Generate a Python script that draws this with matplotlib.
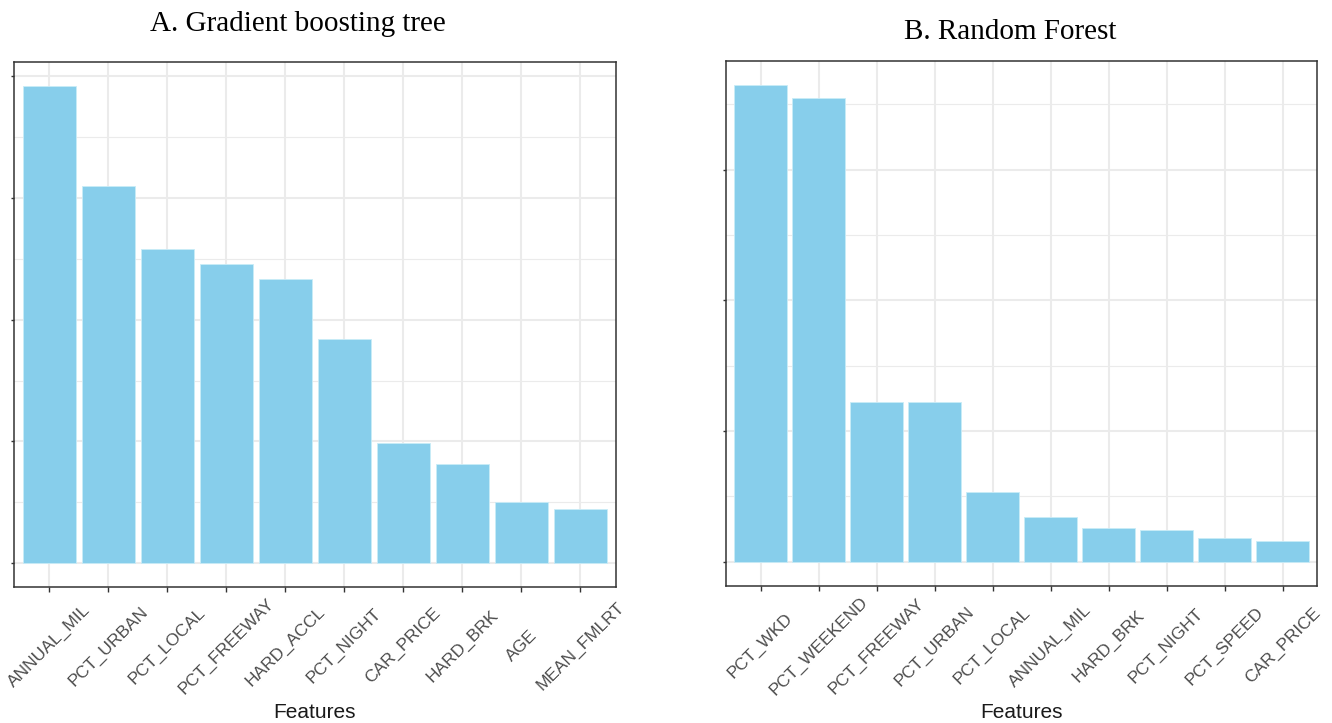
import numpy as np
import matplotlib
matplotlib.use("Agg")
import matplotlib.pyplot as plt

# relative influence from the gradient boosting model
gbt_features = ["ANNUAL_MIL", "PCT_URBAN", "PCT_LOCAL", "PCT_FREEWAY", "HARD_ACCL",
                "PCT_NIGHT", "CAR_PRICE", "HARD_BRK", "AGE", "MEAN_FMLRT"]
gbt_importance = [19.6, 15.5, 12.9, 12.3, 11.66, 9.22, 4.93, 4.07, 2.5, 2.22]
gbt_ticks = [0, 5, 10, 15, 20]

# variable importance from the random forest
rf_features = ["PCT_WKD", "PCT_WEEKEND", "PCT_FREEWAY", "PCT_URBAN", "PCT_LOCAL",
               "ANNUAL_MIL", "HARD_BRK", "PCT_NIGHT", "PCT_SPEED", "CAR_PRICE"]
rf_importance = [36.5, 35.5, 12.2, 12.2, 5.3, 3.4, 2.6, 2.4, 1.8, 1.6]
rf_ticks = [0, 10, 20, 30]

BAR_COLOR = "#87CEEB"
GRID_COLOR = "#ebebeb"
FRAME_COLOR = "#333333"

W, H = 1332, 723


def px_axes(fig, left, right, top, bottom):
    return fig.add_axes([left / W, 1 - bottom / H, (right - left) / W, (bottom - top) / H])


def importance_panel(ax, features, values, ticks, label_offset_px):
    x = np.arange(len(features))
    ax.set_axisbelow(True)
    ax.bar(x, values, width=0.9, color=BAR_COLOR, edgecolor="#c9ecf7", linewidth=0.6, zorder=2)

    # ggplot-like expansion: 0.6 units on a discrete axis, 5% on the continuous one
    top = max(values)
    lo, hi = -0.05 * top, top * 1.05
    step = ticks[1] - ticks[0]
    major = [t for t in ticks if lo <= t <= hi]
    minor = [t + step / 2 for t in ticks if lo <= t + step / 2 <= hi]
    ax.set_yticks(major)
    ax.set_yticks(minor, minor=True)
    ax.set_xlim(-0.6, len(features) - 1 + 0.6)
    ax.set_ylim(lo, hi)

    ax.grid(which="major", color=GRID_COLOR, linewidth=1.5)
    ax.grid(which="minor", axis="y", color=GRID_COLOR, linewidth=0.8)

    ax.set_xticks(x)
    ax.set_xticklabels(features, rotation=45, ha="center", va="center",
                       rotation_mode="anchor", fontsize=12.5, color="#4d4d4d",
                       family="Liberation Sans")
    ax.tick_params(axis="x", length=3.6, width=1, color=FRAME_COLOR,
                   pad=(label_offset_px - 5) * 0.72)
    ax.tick_params(axis="y", which="major", length=2.2, width=1, color=FRAME_COLOR, labelleft=False)
    ax.tick_params(axis="y", which="minor", length=0)

    for sp in ax.spines.values():
        sp.set_color(FRAME_COLOR)
        sp.set_linewidth(1.1)


fig = plt.figure(figsize=(W / 100, H / 100), dpi=100)

ax1 = px_axes(fig, 14, 615.7, 62, 587)
importance_panel(ax1, gbt_features, gbt_importance, gbt_ticks, 59)

ax2 = px_axes(fig, 725.7, 1317.3, 61, 585.5)
importance_panel(ax2, rf_features, rf_importance, rf_ticks, 60.5)

fig.text(298 / W, 1 - 31 / H, "A. Gradient boosting tree", ha="center", va="baseline",
         fontsize=21, family="Liberation Serif")
fig.text(1010 / W, 1 - 39 / H, "B. Random Forest", ha="center", va="baseline",
         fontsize=21, family="Liberation Serif")

for ax, cx in [(ax1, (14 + 615.7) / 2), (ax2, (725.7 + 1317.3) / 2)]:
    fig.text(cx / W, 1 - 718 / H, "Features", ha="center", va="baseline",
             fontsize=15, family="Liberation Sans", color="#1a1a1a")

fig.savefig("out.png", dpi=100)
